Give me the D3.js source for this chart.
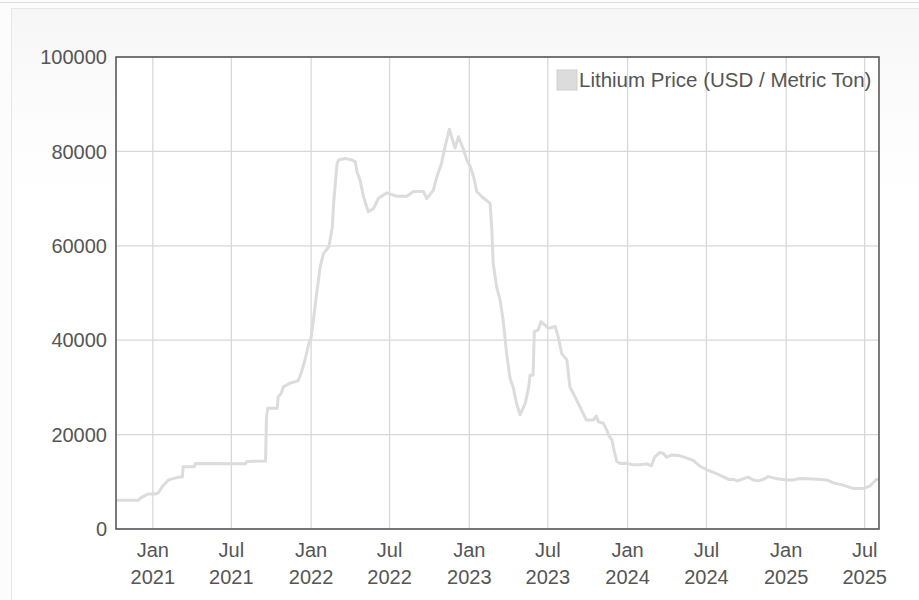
<!DOCTYPE html>
<html lang="en">
	<head>
		<meta charset="UTF-8" />
		<title>Lithium Price</title>
		<script src="https://d3js.org/d3.v7.min.js"></script>
		<style>
			html,
			body {
				margin: 0;
				padding: 0;
				background: #fcfcfc;
				overflow: hidden;
			}
			.topline {
				position: absolute;
				left: 0;
				top: 2px;
				width: 919px;
				height: 1px;
				background: #dcdcdc;
			}
			.card {
				position: absolute;
				left: 11px;
				top: 8px;
				width: 930px;
				height: 620px;
				border: 1px solid #e6e6e6;
				background: linear-gradient(#f6f6f6 0px, #fdfdfd 120px, #ffffff 200px);
			}
			svg {
				position: absolute;
				left: 0;
				top: 0;
			}
			.tick-label {
				font-family: 'Liberation Sans', Arial, sans-serif;
				font-size: 20px;
				fill: #555;
			}
		</style>
	</head>
	<body>
		<div class="topline"></div>
		<div class="card"></div>
		<svg id="chart" width="919" height="600"></svg>

		<script>
			// readings taken off the chart
			var dates = [
				'2020-10-08', '2020-11-29', '2020-12-04', '2020-12-20', '2021-01-07',
				'2021-01-14', '2021-01-23', '2021-02-06', '2021-03-01', '2021-03-10',
				'2021-03-12', '2021-04-07', '2021-04-09', '2021-08-02', '2021-08-06',
				'2021-09-18', '2021-09-20', '2021-09-23', '2021-10-15', '2021-10-17',
				'2021-10-24', '2021-10-29', '2021-11-14', '2021-12-02', '2021-12-09',
				'2021-12-18', '2021-12-27', '2022-01-01', '2022-01-06', '2022-01-14',
				'2022-01-22', '2022-01-30', '2022-02-11', '2022-02-19', '2022-02-22',
				'2022-03-02', '2022-03-06', '2022-03-21', '2022-04-05', '2022-04-13',
				'2022-04-17', '2022-04-24', '2022-05-02', '2022-05-13', '2022-05-25',
				'2022-06-05', '2022-06-24', '2022-07-18', '2022-08-10', '2022-08-25',
				'2022-09-17', '2022-09-25', '2022-10-10', '2022-10-18', '2022-10-29',
				'2022-11-06', '2022-11-16', '2022-11-21', '2022-11-29', '2022-12-07',
				'2022-12-19', '2022-12-26', '2023-01-03', '2023-01-11', '2023-01-18',
				'2023-01-30', '2023-02-14', '2023-02-18', '2023-02-22', '2023-02-25',
				'2023-03-05', '2023-03-13', '2023-03-20', '2023-03-28', '2023-04-05',
				'2023-04-12', '2023-04-20', '2023-04-28', '2023-05-10', '2023-05-18',
				'2023-05-21', '2023-05-28', '2023-05-31', '2023-06-09', '2023-06-15',
				'2023-06-25', '2023-07-02', '2023-07-18', '2023-07-25', '2023-08-02',
				'2023-08-14', '2023-08-21', '2023-09-02', '2023-09-13', '2023-09-28',
				'2023-10-14', '2023-10-21', '2023-10-26', '2023-11-06', '2023-11-14',
				'2023-11-18', '2023-11-26', '2023-11-29', '2023-12-07', '2023-12-15',
				'2023-12-30', '2024-01-14', '2024-01-29', '2024-02-14', '2024-02-25',
				'2024-03-04', '2024-03-15', '2024-03-24', '2024-03-31', '2024-04-12',
				'2024-05-01', '2024-05-17', '2024-06-01', '2024-06-16', '2024-07-01',
				'2024-07-20', '2024-08-08', '2024-08-21', '2024-09-01', '2024-09-10',
				'2024-09-20', '2024-10-05', '2024-10-17', '2024-10-28', '2024-11-09',
				'2024-11-20', '2024-12-09', '2025-01-01', '2025-01-16', '2025-02-02',
				'2025-03-04', '2025-04-04', '2025-04-19', '2025-05-12', '2025-06-04',
				'2025-06-28', '2025-07-13', '2025-07-28', '2025-08-03'
			]

			var prices = [
				6100, 6100, 6600, 7400, 7400,
				7700, 9000, 10400, 11000, 11000,
				13200, 13200, 13900, 13800, 14300,
				14400, 23500, 25600, 25600, 28000,
				28700, 30100, 30900, 31400, 33000,
				35800, 39400, 40500, 44000, 50000,
				55600, 58400, 59800, 64000, 69000,
				77500, 78200, 78500, 78200, 77800,
				75700, 73900, 70400, 67200, 67900,
				70000, 71200, 70500, 70500, 71500,
				71500, 70000, 71800, 74600, 77500,
				81000, 84700, 83100, 80700, 83100,
				80300, 78200, 76800, 74600, 71500,
				70400, 69300, 69000, 63300, 56300,
				51300, 48500, 44300, 37200, 31900,
				30100, 26600, 24200, 26600, 30100,
				32600, 32600, 41800, 42200, 43900,
				43200, 42500, 42900, 40700, 37200,
				35800, 30100, 28000, 25900, 23100,
				23100, 23900, 22700, 22400, 21000,
				19900, 18900, 17400, 14300, 13900,
				13900, 13600, 13600, 13800, 13400,
				15300, 16200, 16000, 15200, 15700,
				15500, 15000, 14500, 13300, 12600,
				11900, 11100, 10500, 10500, 10200,
				10500, 11000, 10400, 10200, 10500,
				11100, 10700, 10400, 10400, 10700,
				10600, 10400, 9800, 9300, 8600,
				8600, 9100, 10500, 10500
			]

			var yTicks = [0, 20000, 40000, 60000, 80000, 100000]
			var seriesName = 'Lithium Price (USD / Metric Ton)'

			var parseDate = d3.timeParse('%Y-%m-%d')
			var data = dates.map(function (d, i) {
				return { date: parseDate(d), value: prices[i] }
			})

			var margin = { top: 57, right: 40, bottom: 71, left: 116 }
			var width = 919 - margin.left - margin.right
			var height = 600 - margin.top - margin.bottom

			var svg = d3.select('#chart')
			var g = svg
				.append('g')
				.attr('transform', 'translate(' + margin.left + ',' + margin.top + ')')

			var x = d3
				.scaleTime()
				.domain(d3.extent(data, function (d) { return d.date }))
				.range([0, width])

			var y = d3.scaleLinear().domain([0, 100000]).range([height, 0])

			g.append('rect')
				.attr('width', width)
				.attr('height', height)
				.attr('fill', '#fff')

			// grid
			var xTicks = x.ticks(d3.timeMonth.every(6))
			g.append('g')
				.selectAll('line')
				.data(xTicks)
				.enter()
				.append('line')
				.attr('x1', function (d) { return x(d) })
				.attr('x2', function (d) { return x(d) })
				.attr('y1', 0)
				.attr('y2', height)
				.attr('stroke', '#d8d8d8')
				.attr('stroke-width', 1.3)

			g.append('g')
				.selectAll('line')
				.data(yTicks)
				.enter()
				.append('line')
				.attr('x1', 0)
				.attr('x2', width)
				.attr('y1', function (d) { return y(d) })
				.attr('y2', function (d) { return y(d) })
				.attr('stroke', '#d8d8d8')
				.attr('stroke-width', 1.3)

			// the series
			var line = d3
				.line()
				.x(function (d) { return x(d.date) })
				.y(function (d) { return y(d.value) })

			g.append('path')
				.datum(data)
				.attr('d', line)
				.attr('fill', 'none')
				.attr('stroke', '#dcdcdc')
				.attr('stroke-width', 3)
				.attr('stroke-linejoin', 'round')

			// frame
			g.append('rect')
				.attr('width', width)
				.attr('height', height)
				.attr('fill', 'none')
				.attr('stroke', '#5a5a5a')
				.attr('stroke-width', 1.6)

			// y labels
			g.append('g')
				.selectAll('text')
				.data(yTicks)
				.enter()
				.append('text')
				.attr('class', 'tick-label')
				.attr('x', -9)
				.attr('y', function (d) { return y(d) })
				.attr('dy', '0.36em')
				.attr('text-anchor', 'end')
				.text(function (d) { return d })

			// x labels, month over year
			var xl = g
				.append('g')
				.selectAll('text')
				.data(xTicks)
				.enter()
				.append('text')
				.attr('class', 'tick-label')
				.attr('text-anchor', 'middle')
				.attr('transform', function (d) {
					return 'translate(' + x(d) + ',' + height + ')'
				})
			xl.append('tspan')
				.attr('x', 0)
				.attr('y', 28)
				.text(d3.timeFormat('%b'))
			xl.append('tspan')
				.attr('x', 0)
				.attr('y', 55)
				.text(d3.timeFormat('%Y'))

			// legend
			var legend = g.append('g').attr('transform', 'translate(' + (width - 322) + ',13)')
			legend
				.append('rect')
				.attr('width', 20)
				.attr('height', 20)
				.attr('fill', '#dcdcdc')
				.attr('stroke', '#cfcfcf')
				.attr('stroke-width', 1)
			legend
				.append('text')
				.attr('x', 22)
				.attr('y', 17)
				.attr('fill', '#555')
				.style('font-family', "'Liberation Sans', Arial, sans-serif")
				.style('font-size', '20.5px')
				.text(seriesName)
		</script>
	</body>
</html>
